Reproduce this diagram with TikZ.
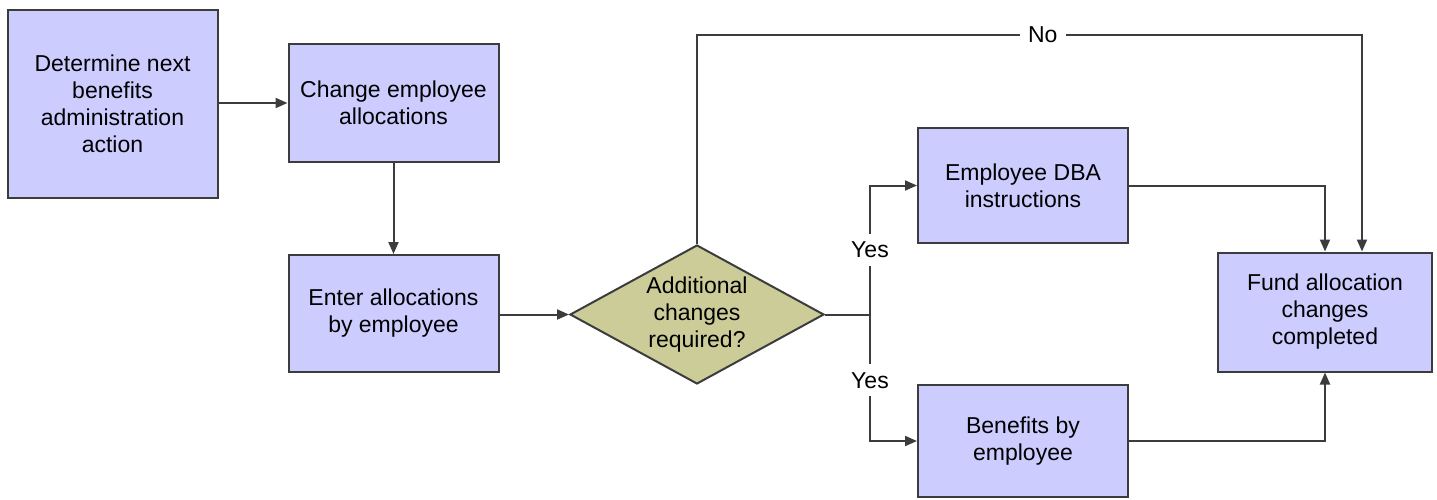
\documentclass[tikz,border=0pt]{standalone}
\usepackage{fontspec}
\setmainfont{Liberation Sans}
\usetikzlibrary{shapes.geometric, arrows.meta, positioning, calc}
\definecolor{boxblue}{RGB}{204, 204, 255}
\definecolor{decisionolive}{RGB}{204, 204, 153}
\definecolor{edgegray}{RGB}{60, 60, 60}
\tikzset{
    procnode/.style={
        draw=edgegray, line width=1pt, fill=boxblue, align=center, inner sep=0pt,
        minimum width=105pt, font=\fontsize{11.5}{13.5}\selectfont
    },
    decnode/.style={
        diamond, draw=edgegray, line width=1pt, fill=decisionolive, align=center,
        inner sep=0pt, shape aspect=1.83, minimum width=127pt, minimum height=69.5pt,
        font=\fontsize{11.5}{13.5}\selectfont
    },
    ptr/.style={
        -{Triangle[length=6pt, width=5pt]}, line width=1pt, edgegray
    },
    lbltext/.style={
        fill=white, inner sep=4pt, text=black, font=\fontsize{11.5}{13.5}\selectfont
    }
}

\begin{document}
\begin{tikzpicture}[x=0.5pt, y=-0.5pt]
    \useasboundingbox (0,0) rectangle (1437,499);

    % ==========================================
    % CÁC HỘP XỬ LÝ
    % ==========================================
    \node[procnode, minimum height=94pt] (det) at (112.5,104) {Determine next\\benefits\\administration\\action};
    \node[procnode, minimum height=59pt] (chg) at (393.5,103) {Change employee\\allocations};
    \node[procnode, minimum height=58.5pt] (enter) at (393.5,313.5) {Enter allocations\\by employee};
    \node[decnode] (addl) at (697,314.5) {Additional\\changes\\required?};
    \node[procnode, minimum height=57.5pt] (dba) at (1023,185.5) {Employee DBA\\instructions};
    \node[procnode, minimum height=56pt] (benef) at (1023,441) {Benefits by\\employee};
    \node[procnode, minimum width=107pt, minimum height=59.5pt] (fund) at (1325,312) {Fund allocation\\changes\\completed};

    % ==========================================
    % CÁC MŨI TÊN
    % ==========================================
    \draw[ptr] (det.east |- chg.west) -- (chg.west);
    \draw[ptr] (chg) -- (enter);
    \draw[ptr] (enter.east |- addl.west) -- (addl.west);

    % nhánh No
    \coordinate (notop) at (697,35);
    \coordinate (noright) at (1362,35);
    \draw[ptr] (addl.north) -- (notop) -- node[lbltext, pos=0.52] {No} (noright) -- (noright |- fund.north);

    % nhánh Yes
    \coordinate (yesjoin) at (870,314.5);
    \draw[ptr] (addl.east) -- (yesjoin) |- node[lbltext, pos=0.25] {Yes} (dba.west);
    \draw[ptr] (addl.east) -- (yesjoin) |- node[lbltext, pos=0.26] {Yes} (benef.west);

    \draw[ptr] (dba.east) -| (fund.north);
    \draw[ptr] (benef.east) -| (fund.south);

\end{tikzpicture}
\end{document}
